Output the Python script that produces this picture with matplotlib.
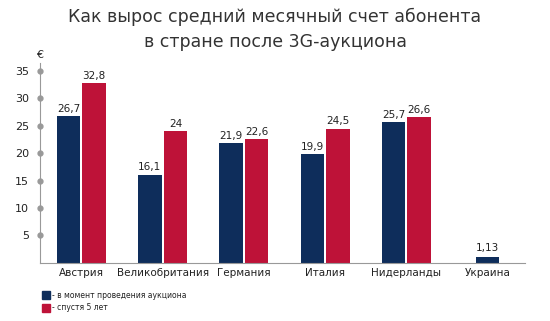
import matplotlib
matplotlib.use("Agg")
import matplotlib.pyplot as plt
import matplotlib.transforms as mtransforms
import numpy as np

categories = ["Австрия", "Великобритания", "Германия", "Италия", "Нидерланды", "Украина"]
at_auction = [26.7, 16.1, 21.9, 19.9, 25.7, 1.13]
after_5y = [32.8, 24.0, 22.6, 24.5, 26.6, None]
yticks = [5, 10, 15, 20, 25, 30, 35]
series_names = ["- в момент проведения аукциона", "- спустя 5 лет"]
title = "Как вырос средний месячный счет абонента\nв стране после 3G-аукциона"

def fmt(v):
    s = f"{v:g}"
    return s.replace(".", ",")

blue = "#0e2d5b"
red = "#be1238"
gray = "#999999"

fig = plt.figure(figsize=(5.5, 3.21), dpi=100)
ax = fig.add_axes([0.0727, 0.181, 0.882, 0.598])

x = np.arange(len(categories)) * 1.0
w = 0.29
gap = 0.012
for i, (a, b) in enumerate(zip(at_auction, after_5y)):
    if b is None:
        ax.bar(x[i], a, w, color=blue)
        ax.text(x[i], a + 0.6, fmt(a), ha="center", va="bottom", fontsize=7.5, color="#222222")
    else:
        xa = x[i] - w / 2 - gap
        xb = x[i] + w / 2 + gap
        ax.bar(xa, a, w, color=blue)
        ax.bar(xb, b, w, color=red)
        ax.text(xa, a + 0.4, fmt(a), ha="center", va="bottom", fontsize=7.5, color="#222222")
        ax.text(xb, b + 0.4, fmt(b), ha="center", va="bottom", fontsize=7.5, color="#222222")

ax.set_xlim(-0.51, 5.46)
ax.set_ylim(0, 35)
for s in ["top", "right"]:
    ax.spines[s].set_visible(False)
ax.spines["left"].set_color(gray)
ax.spines["bottom"].set_color(gray)
ax.spines["left"].set_bounds(0, 36.5)
ax.set_yticks(yticks)
ax.set_yticklabels([str(t) for t in yticks], fontsize=8, color="#222222")
ax.tick_params(axis="y", length=0, pad=8)
trans = mtransforms.blended_transform_factory(ax.transAxes, ax.transData)
ax.plot(np.zeros(len(yticks)), yticks, "o", color=gray, ms=3.5, clip_on=False, zorder=5, transform=trans)
ax.set_xticks(x)
ax.set_xticklabels(categories, fontsize=7.5, color="#222222")
ax.tick_params(axis="x", length=0, pad=4)
ax.text(0.0, 1.055, "€", transform=ax.transAxes, ha="center", va="bottom", fontsize=8, color="#222222")

fig.text(0.5, 0.975, title, ha="center", va="top", fontsize=12.5, color="#333333", linespacing=1.45)

# legend
for j, (name, c) in enumerate(zip(series_names, [blue, red])):
    yy = 0.08 - j * 0.039
    fig.patches.append(plt.Rectangle((0.076, yy - 0.013), 0.015, 0.026, color=c, transform=fig.transFigure))
    fig.text(0.094, yy, name, ha="left", va="center", fontsize=5.5, color="#222222")

fig.savefig("out.png", dpi=100)
